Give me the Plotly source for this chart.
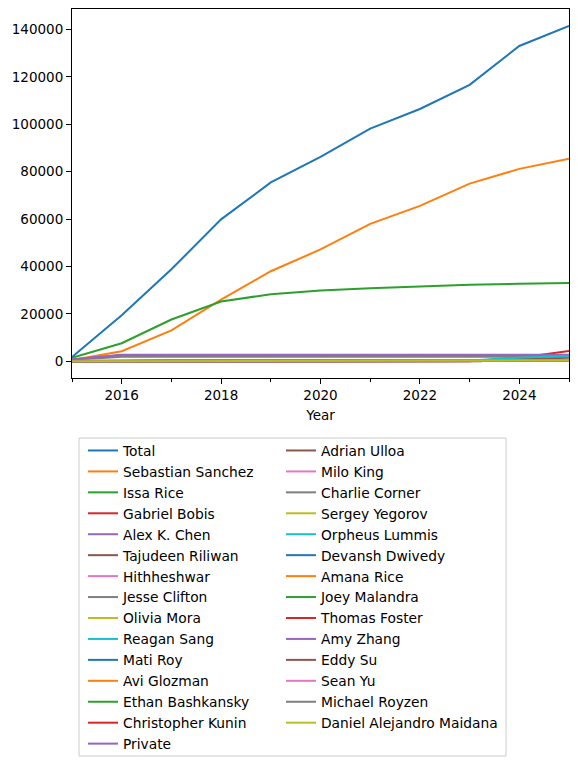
import plotly.graph_objects as go

# yearly totals per person, 2015-2025
years = list(range(2015, 2026))

names = ["Total", "Sebastian Sanchez", "Issa Rice", "Gabriel Bobis", "Alex K. Chen",
         "Tajudeen Riliwan", "Hithheshwar", "Jesse Clifton", "Olivia Mora", "Reagan Sang",
         "Mati Roy", "Avi Glozman", "Ethan Bashkansky", "Christopher Kunin", "Private",
         "Adrian Ulloa", "Milo King", "Charlie Corner", "Sergey Yegorov", "Orpheus Lummis",
         "Devansh Dwivedy", "Amana Rice", "Joey Malandra", "Thomas Foster", "Amy Zhang",
         "Eddy Su", "Sean Yu", "Michael Royzen", "Daniel Alejandro Maidana"]

total = [1800, 19400, 38800, 59900, 75500, 86300, 98200, 106500, 116700, 133100, 141600]
sebastian_sanchez = [500, 4200, 13000, 26000, 38000, 47200, 58000, 65600, 75000, 81200, 85500]
issa_rice = [1500, 7600, 17600, 25200, 28300, 29900, 30800, 31600, 32300, 32700, 33000]
gabriel_bobis = [0, 0, 0, 0, 0, 0, 0, 0, 0, 1500, 4300]
alex_k_chen = [800, 2700, 2700, 2700, 2700, 2700, 2700, 2700, 2700, 2700, 2700]
tajudeen_riliwan = [0, 0, 0, 0, 0, 0, 0, 0, 100, 900, 1500]
hithheshwar = [0, 300, 300, 300, 300, 300, 300, 300, 300, 300, 300]
jesse_clifton = [500, 1900, 1900, 1900, 1900, 1900, 1900, 1900, 1900, 1900, 1900]
olivia_mora = [300, 500, 500, 500, 500, 500, 500, 500, 500, 500, 500]
reagan_sang = [0, 100, 100, 100, 100, 100, 100, 100, 100, 100, 100]
mati_roy = [0, 200, 200, 200, 200, 200, 200, 200, 200, 200, 200]
avi_glozman = [0, 100, 100, 100, 100, 100, 100, 100, 100, 100, 100]
ethan_bashkansky = [0, 100, 100, 100, 100, 100, 100, 100, 100, 100, 100]
christopher_kunin = [0, 100, 100, 100, 100, 100, 100, 100, 100, 100, 100]
private = [600, 2600, 2600, 2600, 2600, 2600, 2600, 2600, 2600, 2600, 2600]
adrian_ulloa = [0, 0, 0, 0, 0, 0, 0, 0, 0, 100, 200]
milo_king = [0, 0, 0, 0, 0, 0, 0, 0, 0, 100, 100]
charlie_corner = [0, 300, 300, 300, 300, 300, 300, 300, 300, 300, 300]
sergey_yegorov = [0, 100, 100, 100, 100, 100, 100, 100, 100, 200, 300]
orpheus_lummis = [0, 0, 0, 0, 0, 0, 0, 0, 300, 1500, 2300]
devansh_dwivedy = [0, 0, 0, 0, 0, 0, 0, 0, 0, 100, 100]
amana_rice = [0, 0, 0, 0, 0, 0, 0, 0, 0, 100, 100]
joey_malandra = [0, 0, 0, 0, 0, 0, 0, 0, 0, 100, 100]
thomas_foster = [0, 0, 0, 0, 0, 0, 0, 0, 0, 0, 100]
amy_zhang = [0, 0, 0, 0, 0, 0, 0, 0, 0, 0, 100]
eddy_su = [0, 0, 0, 0, 0, 0, 0, 0, 0, 0, 100]
sean_yu = [0, 0, 0, 0, 0, 0, 0, 0, 0, 0, 100]
michael_royzen = [0, 0, 0, 0, 0, 0, 0, 0, 0, 0, 100]
daniel_maidana = [0, 0, 0, 0, 0, 0, 0, 0, 0, 200, 300]

series = [total, sebastian_sanchez, issa_rice, gabriel_bobis, alex_k_chen,
          tajudeen_riliwan, hithheshwar, jesse_clifton, olivia_mora, reagan_sang,
          mati_roy, avi_glozman, ethan_bashkansky, christopher_kunin, private,
          adrian_ulloa, milo_king, charlie_corner, sergey_yegorov, orpheus_lummis,
          devansh_dwivedy, amana_rice, joey_malandra, thomas_foster, amy_zhang,
          eddy_su, sean_yu, michael_royzen, daniel_maidana]

tab10 = ["#1f77b4", "#ff7f0e", "#2ca02c", "#d62728", "#9467bd",
         "#8c564b", "#e377c2", "#7f7f7f", "#bcbd22", "#17becf"]

FONT = "DejaVu Sans"
OFF = 8  # the page body adds an 8px margin
W, H = 578 - OFF, 766 - OFF
L, R, T, B = 72 - OFF, 569 - OFF, 9 - OFF, 378 - OFF

fig = go.Figure()
for i, (name, vals) in enumerate(zip(names, series)):
    fig.add_trace(go.Scatter(
        x=years, y=vals, name=name, mode="lines",
        line=dict(color=tab10[i % 10], width=2),
        legend="legend" if i < 15 else "legend2",
    ))

axis_style = dict(showline=True, linecolor="black", linewidth=1, mirror=True,
                  ticks="outside", ticklen=5, tickcolor="black", showgrid=False,
                  zeroline=False, tickfont=dict(family=FONT, size=13.5, color="black"))

fig.update_xaxes(range=[2015, 2025], tickvals=[2016, 2018, 2020, 2022, 2024],
                 minor=dict(ticks="outside", ticklen=3, tickcolor="black", dtick=1, tick0=2015),
                 title=dict(text="Year", font=dict(family=FONT, size=13.5, color="black"), standoff=8),
                 **axis_style)
fig.update_yaxes(range=[-7080, 148700], dtick=20000, tickformat="d", **axis_style)

# legend frame (both columns share one box)
pw, ph = R - L, B - T
fig.add_shape(type="rect", xref="paper", yref="paper",
              x0=(79 - OFF - L) / pw, x1=(506 - OFF - L) / pw,
              y0=(B - (756 - OFF)) / ph, y1=(B - (438 - OFF)) / ph,
              line=dict(color="#cccccc", width=1), fillcolor="white", layer="below")

legend_style = dict(orientation="v", yref="container", xref="container", yanchor="top", xanchor="left",
                    bgcolor="rgba(0,0,0,0)", borderwidth=0, tracegroupgap=0,
                    font=dict(family=FONT, size=13.8, color="black"))
fig.update_layout(
    width=W, height=H,
    margin=dict(l=L, r=W - R, t=T, b=H - B, autoexpand=False),
    plot_bgcolor="white", paper_bgcolor="white",
    font=dict(family=FONT, color="black"),
    showlegend=True,
    legend=dict(x=(83 - OFF) / W, y=1 - (435 - OFF) / H, **legend_style),
    legend2=dict(x=(281 - OFF) / W, y=1 - (435 - OFF) / H, **legend_style),
)

fig.write_html("out.html")
